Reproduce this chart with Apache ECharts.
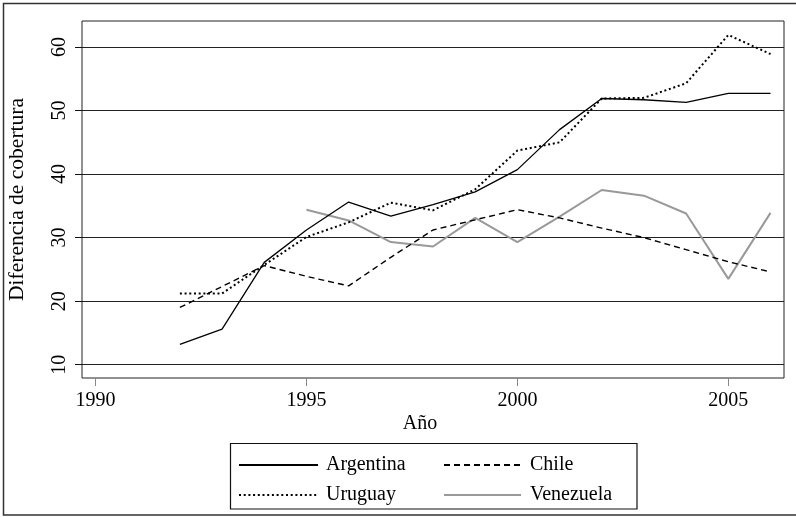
<!DOCTYPE html>
<html>
<head>
<meta charset="utf-8">
<script src="https://cdn.jsdelivr.net/npm/echarts@6/dist/echarts.min.js"></script>
<style>
html,body{margin:0;padding:0;background:#fff;}
#chart{width:796px;height:517px;}
</style>
</head>
<body>
<div id="chart"></div>
<script>
var years = [1992,1993,1994,1995,1996,1997,1998,1999,2000,2001,2002,2003,2004,2005,2006];
var argentina = [13.2,15.6,26.1,31.2,35.6,33.4,35.2,37.2,40.7,47.0,51.9,51.7,51.3,52.7,52.7];
var chile = [19.0,22.3,25.6,23.9,22.4,26.9,31.2,32.8,34.4,33.1,31.5,30.0,28.1,26.2,24.6];
var uruguay = [21.2,21.2,25.7,30.1,32.4,35.5,34.3,37.6,43.7,45.0,51.9,52.0,54.3,61.9,58.9];
var venezuela = [null,null,null,34.4,32.7,29.3,28.6,33.1,29.3,33.3,37.5,36.6,33.8,23.5,33.9];
var xTicks = [1990,1995,2000,2005];
var yTicks = [10,20,30,40,50,60];
var seriesNames = ['Argentina','Chile','Uruguay','Venezuela'];

function pairs(vals){
  var out = [];
  for (var i=0;i<years.length;i++){ if (vals[i]!==null) out.push([years[i], vals[i]]); }
  return out;
}
var FONT = '"Liberation Serif", "Times New Roman", serif';
var chart = echarts.init(document.getElementById('chart'));
chart.setOption({
  animation:false,
  backgroundColor:'#fff',
  textStyle:{fontFamily:FONT},
  grid:{left:82, top:21, right:12, bottom:139, show:true, borderColor:'#222', borderWidth:1,
        containLabel:false, outerBoundsMode:'none'},
  xAxis:{
    type:'value', min:1989.68, max:2006.32,
    name:'Año', nameLocation:'middle', nameGap:36, nameMoveOverlap:false,
    nameTextStyle:{fontFamily:FONT, fontSize:20, color:'#000', padding:[0,26,0,0]},
    axisLine:{show:false},
    axisTick:{show:true, length:8, lineStyle:{color:'#888', width:1}, customValues:xTicks},
    axisLabel:{fontFamily:FONT, fontSize:20, color:'#000', margin:13, customValues:xTicks,
      formatter:function(v){ return String(Math.round(v)); }},
    splitLine:{show:false}
  },
  yAxis:{
    type:'value', min:7.9, max:64.1,
    name:'Diferencia de cobertura', nameLocation:'middle', nameGap:54, nameMoveOverlap:false,
    nameTextStyle:{fontFamily:FONT, fontSize:21.5, color:'#000'},
    axisLine:{show:false},
    axisTick:{show:true, length:7, lineStyle:{color:'#111', width:1}, customValues:yTicks},
    axisLabel:{fontFamily:FONT, fontSize:20, color:'#000', rotate:90, margin:12, customValues:yTicks},
    splitLine:{show:true, lineStyle:{color:'#222', width:1}}
  },
  legend:[
    {data:['Argentina','Uruguay'], orient:'vertical', left:233, top:450, itemWidth:79, itemHeight:14, itemGap:10,
     itemStyle:{opacity:0},
     textStyle:{fontFamily:FONT, fontSize:20, color:'#000', padding:[0,0,0,3]}},
    {data:['Chile','Venezuela'], orient:'vertical', left:438, top:450, itemWidth:77, itemHeight:14, itemGap:10,
     itemStyle:{opacity:0},
     textStyle:{fontFamily:FONT, fontSize:20, color:'#000', padding:[0,0,0,4]}}
  ],
  graphic:[
    {type:'rect', shape:{x:3.5, y:3.5, width:800, height:511.5}, style:{fill:'none', stroke:'#333', lineWidth:1.5}, silent:true},
    {type:'rect', shape:{x:230.5, y:443.5, width:406.5, height:65.5}, style:{fill:'none', stroke:'#111', lineWidth:1.2}, silent:true}
  ],
  series:[
    {name:seriesNames[0], type:'line', data:pairs(argentina), symbol:'none', color:'#000',
     lineStyle:{color:'#000', width:1.3, type:'solid'}, z:4},
    {name:seriesNames[1], type:'line', data:pairs(chile), symbol:'none', color:'#000',
     lineStyle:{color:'#000', width:1.4, type:[6,4]}, z:3},
    {name:seriesNames[2], type:'line', data:pairs(uruguay), symbol:'none', color:'#000',
     lineStyle:{color:'#000', width:2, type:[2,2.7]}, z:3},
    {name:seriesNames[3], type:'line', data:pairs(venezuela), symbol:'none', color:'#999',
     lineStyle:{color:'#999', width:2, type:'solid'}, z:2}
  ]
});
</script>
</body>
</html>
